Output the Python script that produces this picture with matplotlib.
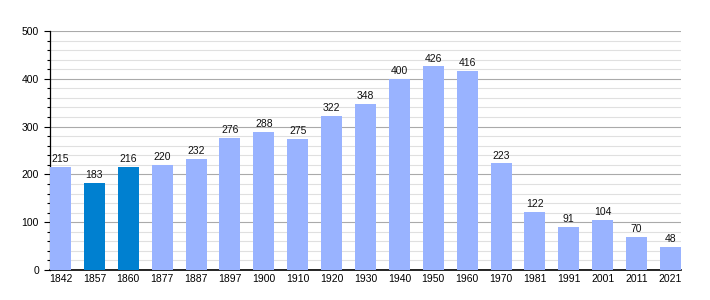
import numpy as np
import matplotlib.pyplot as plt
from matplotlib.ticker import MultipleLocator

years = ['1842', '1857', '1860', '1877', '1887', '1897', '1900', '1910', '1920', '1930',
         '1940', '1950', '1960', '1970', '1981', '1991', '2001', '2011', '2021']
population = [215, 183, 216, 220, 232, 276, 288, 275, 322, 348,
              400, 426, 416, 223, 122, 91, 104, 70, 48]
highlighted = ['1857', '1860']

plt.rcParams['font.family'] = ['Liberation Sans', 'DejaVu Sans']

fig = plt.figure(figsize=(7.1, 3.0), dpi=100)
ax = fig.add_axes([50 / 710, 30 / 300, 631 / 710, 239 / 300])

x = np.arange(len(years))
colors = ['#0080d0' if y in highlighted else '#99b3ff' for y in years]
ax.bar(x, population, width=0.62, color=colors, zorder=3)

for xi, v in zip(x, population):
    ax.text(xi, v + 6, str(v), ha='center', va='bottom', fontsize=7.5, color='#111111', zorder=4)

ax.set_xlim(-0.31, len(years) - 1 + 0.31)
ax.set_ylim(0, 500)
ax.set_xticks(x)
ax.set_xticklabels(years, fontsize=7.5)
ax.yaxis.set_major_locator(MultipleLocator(100))
ax.yaxis.set_minor_locator(MultipleLocator(20))
ax.tick_params(axis='y', which='major', labelsize=7.5, length=4, width=0.8, pad=4)
ax.tick_params(axis='y', which='minor', length=2, width=0.8)
ax.tick_params(axis='x', length=0, pad=3)

ax.grid(axis='y', which='major', color='#aaaaaa', linewidth=0.8, zorder=1)
ax.grid(axis='y', which='minor', color='#e0e0e0', linewidth=0.8, zorder=0)

for s in ['top', 'right']:
    ax.spines[s].set_visible(False)
ax.spines['left'].set_linewidth(0.9)
ax.spines['bottom'].set_linewidth(1.2)

fig.savefig('out.png', dpi=100)
